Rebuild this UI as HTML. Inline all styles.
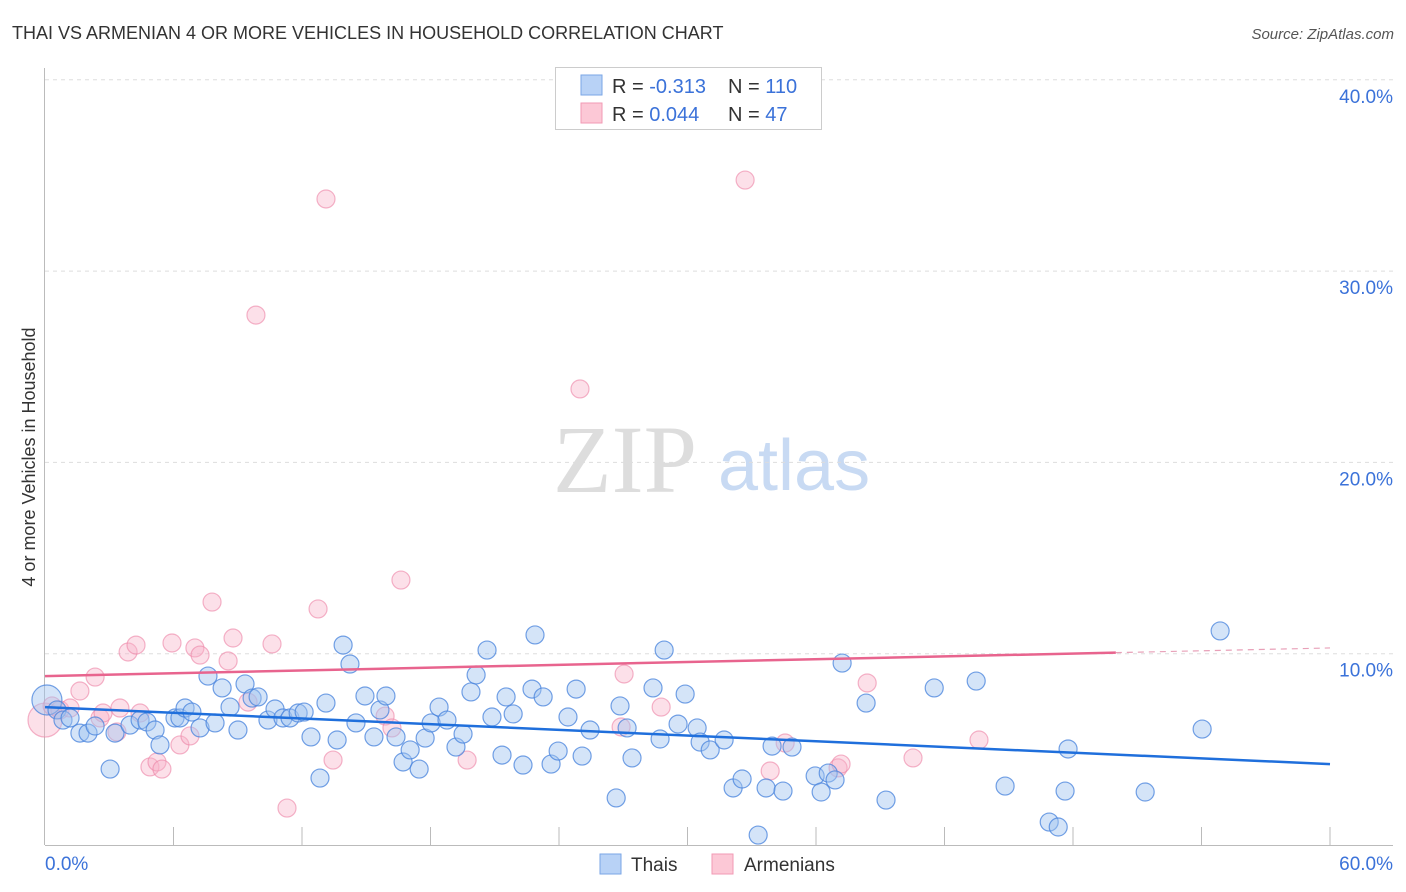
<!DOCTYPE html>
<html><head><meta charset="utf-8"><style>
body{margin:0;background:#fff;font-family:"Liberation Sans",sans-serif;}
svg{display:block}
</style></head><body>
<svg id="chart" width="1406" height="892" xmlns="http://www.w3.org/2000/svg">
<text x="12" y="39" font-size="18" fill="#333">THAI VS ARMENIAN 4 OR MORE VEHICLES IN HOUSEHOLD CORRELATION CHART</text>
<text x="1394" y="39" font-size="15" fill="#555" font-style="italic" text-anchor="end">Source: ZipAtlas.com</text>
<text x="35" y="457" font-size="18" fill="#333" text-anchor="middle" transform="rotate(-90 35 457)">4 or more Vehicles in Household</text>
<g>
<text x="553" y="492" font-family="Liberation Serif,serif" font-size="96" fill="#ddd">ZIP</text>
<text x="718" y="490" font-size="72" fill="#c8daf3">atlas</text>
</g>
<g id="grid"></g>
<g id="pts"></g>
<g id="lines"></g>
<g>
<rect x="555.5" y="67.5" width="266" height="62" fill="#fff" stroke="#ccc"/>
<rect x="581" y="75" width="21" height="20" fill="#b8d2f6" stroke="#7aa6e6"/>
<rect x="581" y="103" width="21" height="20" fill="#fcc8d6" stroke="#f29ab4"/>
<text x="612" y="93" font-size="20" fill="#333">R = <tspan fill="#3b72d9">-0.313</tspan></text>
<text x="728" y="93" font-size="20" fill="#333">N = <tspan fill="#3b72d9">110</tspan></text>
<text x="612" y="121" font-size="20" fill="#333">R = <tspan fill="#3b72d9">0.044</tspan></text>
<text x="728" y="121" font-size="20" fill="#333">N = <tspan fill="#3b72d9"> 47</tspan></text>
</g>
<g>
<rect x="600" y="854" width="21" height="20" fill="#b8d2f6" stroke="#7aa6e6"/>
<text x="631" y="871" font-size="19" fill="#333">Thais</text>
<rect x="712" y="854" width="21" height="20" fill="#fcc8d6" stroke="#f29ab4"/>
<text x="744" y="871" font-size="19" fill="#333">Armenians</text>
</g>
</svg>
<script>
const yTicks=[10,20,30,40];
const yTickLabels=["10.0%","20.0%","30.0%","40.0%"];
const xTickLabels=["0.0%","60.0%"];
const thaiX=[0.09,0.56,0.84,1.17,1.63,2.01,2.34,3.04,3.27,3.97,4.44,4.76,5.14,5.37,6.07,6.30,6.54,6.86,7.24,7.61,7.94,8.27,8.64,9.01,9.34,9.67,9.95,10.41,10.74,11.11,11.44,11.82,12.10,12.42,12.84,13.12,13.64,13.92,14.24,14.52,14.94,15.36,15.64,15.92,16.39,16.72,17.05,17.47,17.75,18.03,18.40,18.77,19.19,19.52,19.89,20.13,20.64,20.87,21.34,21.53,21.86,22.32,22.74,22.88,23.26,23.63,23.96,24.42,24.80,25.08,25.45,26.67,26.85,27.18,27.41,28.39,28.72,28.91,29.56,29.89,30.45,30.59,31.06,31.71,32.13,32.55,33.30,33.67,33.95,34.46,34.88,35.96,36.24,36.57,36.89,37.22,38.34,39.27,41.52,43.48,44.83,46.89,47.31,47.63,47.77,51.37,54.03,54.87];
const thaiY=[7.58,7.06,6.53,6.64,5.85,5.85,6.22,3.97,5.85,6.27,6.53,6.43,6.01,5.23,6.64,6.64,7.16,6.95,6.12,8.83,6.38,8.21,7.21,6.01,8.42,7.68,7.74,6.53,7.11,6.64,6.64,6.90,6.95,5.65,3.50,7.42,5.49,10.45,9.46,6.38,7.79,5.65,7.06,7.79,5.65,4.34,4.97,3.97,5.59,6.38,7.21,6.53,5.12,5.80,8.00,8.89,10.19,6.69,4.70,7.74,6.85,4.18,8.15,10.98,7.74,4.23,4.91,6.69,8.15,4.65,6.01,2.46,7.27,6.12,4.55,8.21,5.54,10.19,6.32,7.89,6.12,5.38,4.97,5.49,2.98,3.45,0.52,2.98,5.17,2.82,5.12,3.61,2.77,3.76,3.40,9.51,7.42,2.35,8.21,8.57,3.08,1.20,0.94,2.82,5.02,2.77,6.06,11.19];
const armX=[0,0.33,0.70,1.17,1.63,2.34,2.57,2.71,3.36,3.50,3.88,4.25,4.44,4.90,5.23,5.46,5.93,6.30,6.77,7.00,7.24,7.80,8.55,8.78,9.48,9.85,10.60,11.30,12.75,13.12,13.45,15.88,16.20,16.62,19.71,24.98,26.90,27.04,28.77,32.69,33.86,34.56,37.03,37.17,38.39,40.53,43.61];
const armY=[6.53,7.27,7.06,7.16,8.05,8.78,6.64,6.90,5.91,7.16,10.09,10.45,6.90,4.08,4.34,3.97,10.56,5.23,5.70,10.30,9.93,12.70,9.62,10.82,7.47,27.70,10.51,1.93,12.34,33.77,4.44,6.74,6.12,13.85,4.44,23.84,6.17,8.94,7.21,34.76,3.87,5.33,4.03,4.23,8.47,4.55,5.49];
const thaiLine=[7.21,4.23];
const armLine=[8.83,10.3];
const X0=45,X1=1330,Y0=845,PPY=19.13;
const sx=v=>X0+(v/60)*(X1-X0);
const sy=v=>Y0-v*PPY;
const NS="http://www.w3.org/2000/svg";
function mk(tag,attrs,parent){const e=document.createElementNS(NS,tag);for(const k in attrs)e.setAttribute(k,attrs[k]);parent.appendChild(e);return e;}
const grid=document.getElementById('grid');
yTicks.forEach((t,i)=>{
 const l=mk('line',{x1:45,x2:1393,y1:sy(t),y2:sy(t),stroke:'#ddd','stroke-dasharray':'4,4'},grid);
 
 
 const tx=mk('text',{x:1393,y:sy(t)+23,'font-size':19,fill:'#3b72d9','text-anchor':'end'},grid);
 tx.textContent=yTickLabels[i];
 
 
});
const xa=mk('line',{x1:45,x2:1393,y1:845.5,y2:845.5,stroke:'#bbb'},grid);


const ya=mk('line',{x1:44.5,x2:44.5,y1:68,y2:845,stroke:'#bbb'},grid);


for(let k=1;k<=10;k++){
 const t=mk('line',{x1:sx(k*6),x2:sx(k*6),y1:827,y2:845,stroke:'#bbb'},grid);
 
 
}
const xl0=mk('text',{x:45,y:870,'font-size':19,fill:'#3b72d9'},grid);
xl0.textContent=xTickLabels[0];


const xl1=mk('text',{x:1393,y:870,'font-size':19,fill:'#3b72d9','text-anchor':'end'},grid);
xl1.textContent=xTickLabels[1];


const pts=document.getElementById('pts');
armX.forEach((x,i)=>{
 const c=mk('circle',{cx:sx(x),cy:sy(armY[i]),r:i==0?17:9,fill:'rgba(248,178,200,0.4)',stroke:'rgba(236,130,165,0.6)','stroke-width':1.2},pts);
 
 
});
thaiX.forEach((x,i)=>{
 const c=mk('circle',{cx:sx(x),cy:sy(thaiY[i]),r:i==0?15:9,fill:'rgba(160,196,240,0.45)',stroke:'rgba(70,130,220,0.75)','stroke-width':1.2},pts);
 
 
});
const lines=document.getElementById('lines');
const bl=mk('line',{x1:sx(0),y1:sy(thaiLine[0]),x2:sx(60),y2:sy(thaiLine[1]),stroke:'#1f6fdc','stroke-width':2.5},lines);


const am=armLine[0]+(armLine[1]-armLine[0])*50/60;
const pl=mk('line',{x1:sx(0),y1:sy(armLine[0]),x2:sx(50),y2:sy(am),stroke:'#e8648e','stroke-width':2.5},lines);


const pd=mk('line',{x1:sx(50),y1:sy(am),x2:sx(60),y2:sy(armLine[1]),stroke:'#e8a0b8','stroke-width':1.2,'stroke-dasharray':'6,5'},lines);


</script>
</body></html>
